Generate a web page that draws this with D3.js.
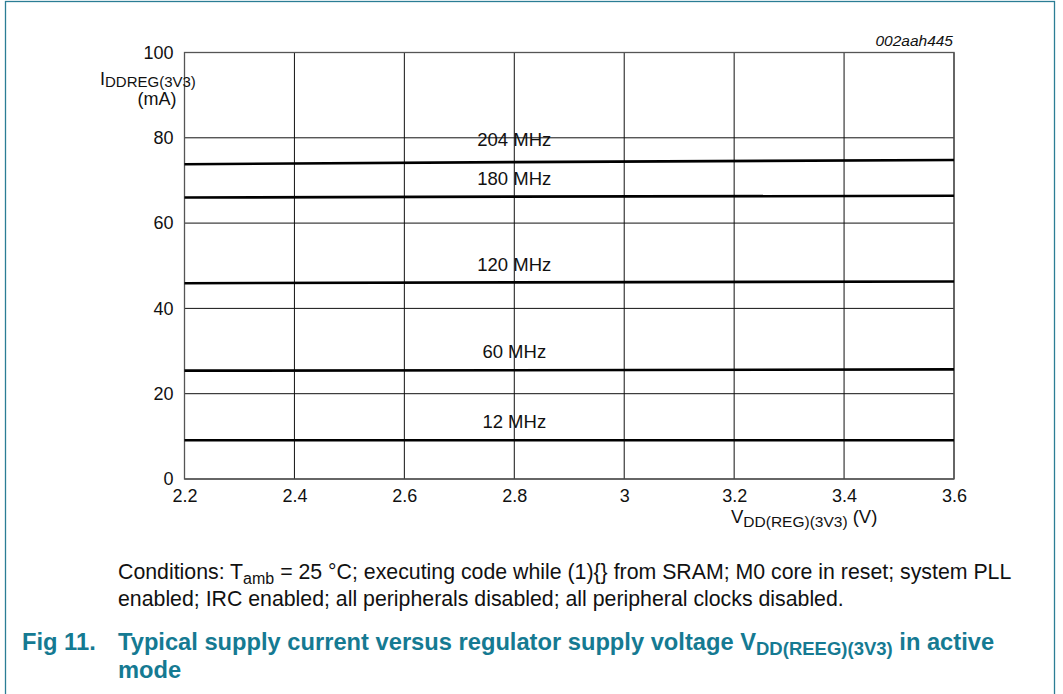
<!DOCTYPE html>
<html>
<head>
<meta charset="utf-8">
<script src="https://cdn.jsdelivr.net/npm/d3@7.9.0/dist/d3.min.js"></script>
<style>
  body { margin: 0; background: #fff; }
  svg { display: block; font-family: "Liberation Sans", Arial, sans-serif; }
</style>
</head>
<body>
<svg id="chart" width="1063" height="694"></svg>
<script>
// supply voltage readings (V)
const voltages = [2.2, 2.8, 3.6];
// current per clock frequency (mA)
const freqs = ['204 MHz', '180 MHz', '120 MHz', '60 MHz', '12 MHz'];
const currents = [
  [73.8, 74.3, 74.8],
  [66.0, 66.2, 66.4],
  [45.9, 46.1, 46.3],
  [25.4, 25.5, 25.7],
  [9.1, 9.1, 9.1]
];
// where each curve label sits (mA, at 2.8 V)
const labelAt = [79.5, 70.4, 50.4, 29.8, 13.4];

const xTicks = [2.2, 2.4, 2.6, 2.8, 3.0, 3.2, 3.4, 3.6];
const yTicks = [0, 20, 40, 60, 80, 100];

const svg = d3.select('#chart');
const teal = '#157a92';
const font = '"Liberation Sans", Arial, sans-serif';

// page frame
svg.append('rect')
  .attr('x', 5.5).attr('y', 1.5)
  .attr('width', 1049).attr('height', 700)
  .attr('fill', 'none').attr('stroke', '#2b7d95').attr('stroke-width', 1.3);

const x = d3.scaleLinear().domain([2.2, 3.6]).range([184.5, 954]);
const y = d3.scaleLinear().domain([0, 100]).range([479, 52.5]);

const g = svg.append('g');

// grid
g.selectAll('.vgrid').data(xTicks).join('line')
  .attr('x1', d => x(d)).attr('x2', d => x(d))
  .attr('y1', y(0)).attr('y2', y(100))
  .attr('stroke', '#111').attr('stroke-width', 1);
g.selectAll('.hgrid').data(yTicks).join('line')
  .attr('x1', x(2.2)).attr('x2', x(3.6))
  .attr('y1', d => y(d)).attr('y2', d => y(d))
  .attr('stroke', '#111').attr('stroke-width', 1);
g.append('rect')
  .attr('x', x(2.2)).attr('y', y(100))
  .attr('width', x(3.6) - x(2.2)).attr('height', y(0) - y(100))
  .attr('fill', 'none').attr('stroke', '#555').attr('stroke-width', 1.3);

// tick labels
const fmt = d => d === 3 ? '3' : d3.format('.1f')(d);
svg.append('g')
  .attr('transform', `translate(0,${y(0)})`)
  .call(d3.axisBottom(x).tickValues(xTicks).tickFormat(fmt).tickSize(0).tickPadding(10))
  .call(a => a.select('.domain').remove())
  .selectAll('text')
  .attr('font-size', 18).attr('fill', '#111').attr('font-family', font);

svg.append('g')
  .attr('transform', `translate(${x(2.2)},0)`)
  .call(d3.axisLeft(y).tickValues(yTicks).tickSize(0).tickPadding(11))
  .call(a => a.select('.domain').remove())
  .selectAll('text')
  .attr('font-size', 18).attr('fill', '#111').attr('font-family', font);

// curves
const line = d3.line().x((d, i) => x(voltages[i])).y(d => y(d));
g.selectAll('.curve').data(currents).join('path')
  .attr('d', line)
  .attr('fill', 'none').attr('stroke', '#000').attr('stroke-width', 2.6);

g.selectAll('.clabel').data(freqs).join('text')
  .attr('x', x(2.8)).attr('y', (d, i) => y(labelAt[i]))
  .attr('dy', '0.35em')
  .attr('text-anchor', 'middle')
  .attr('font-size', 18.5).attr('fill', '#111')
  .text(d => d);

// axis titles
const yl = svg.append('text').attr('x', 100).attr('y', 85).attr('font-size', 18).attr('fill', '#111');
yl.append('tspan').text('I');
yl.append('tspan').attr('dy', 2).attr('font-size', 15).text('DDREG(3V3)');
svg.append('text').attr('x', 157).attr('y', 105).attr('text-anchor', 'middle')
  .attr('font-size', 18).attr('fill', '#111').text('(mA)');

const xl = svg.append('text').attr('x', 731).attr('y', 523).attr('font-size', 18.5).attr('fill', '#111');
xl.append('tspan').text('V');
xl.append('tspan').attr('dy', 4).attr('font-size', 15.5).text('DD(REG)(3V3)');
xl.append('tspan').attr('dy', -4).text(' (V)');

svg.append('text').attr('x', 953).attr('y', 46).attr('text-anchor', 'end')
  .attr('font-size', 15.5).attr('font-style', 'italic').attr('fill', '#111').text('002aah445');

// conditions
const c1 = svg.append('text').attr('x', 118).attr('y', 579).attr('font-size', 21.3).attr('fill', '#111');
c1.append('tspan').text('Conditions: T');
c1.append('tspan').attr('dy', 5).attr('font-size', 16).text('amb');
c1.append('tspan').attr('dy', -5).text(' = 25 \u00B0C; executing code while (1){} from SRAM; M0 core in reset; system PLL');
svg.append('text').attr('x', 118).attr('y', 606).attr('font-size', 21.3).attr('fill', '#111')
  .text('enabled; IRC enabled; all peripherals disabled; all peripheral clocks disabled.');

// figure title
svg.append('text').attr('x', 22).attr('y', 650).attr('font-size', 23.7).attr('font-weight', 'bold')
  .attr('fill', teal).text('Fig 11.');
const t1 = svg.append('text').attr('x', 118).attr('y', 650).attr('font-size', 23.7)
  .attr('font-weight', 'bold').attr('fill', teal);
t1.append('tspan').text('Typical supply current versus regulator supply voltage V');
t1.append('tspan').attr('dy', 5).attr('font-size', 18.5).text('DD(REEG)(3V3)');
t1.append('tspan').attr('dy', -5).text(' in active');
svg.append('text').attr('x', 118).attr('y', 678).attr('font-size', 23.7).attr('font-weight', 'bold')
  .attr('fill', teal).text('mode');
</script>
</body>
</html>
